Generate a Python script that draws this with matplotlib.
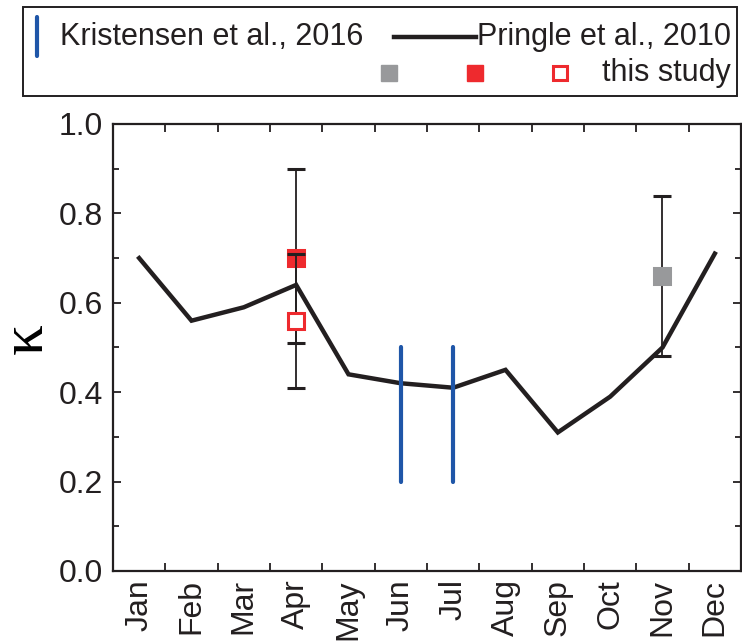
import numpy as np
import matplotlib.pyplot as plt
from matplotlib.patches import Rectangle
from matplotlib.lines import Line2D

plt.rcParams['font.family'] = ['Liberation Sans', 'DejaVu Sans']

months = ['Jan', 'Feb', 'Mar', 'Apr', 'May', 'Jun',
          'Jul', 'Aug', 'Sep', 'Oct', 'Nov', 'Dec']
# Pringle et al., 2010 monthly kappa
pringle_kappa = [0.70, 0.56, 0.59, 0.64, 0.44, 0.42, 0.41, 0.45, 0.31, 0.39, 0.50, 0.71]

# Kristensen et al., 2016 ranges
kris_months = ['Jun', 'Jul']
kris_low = [0.20, 0.20]
kris_high = [0.50, 0.50]

# this study
gray_month, gray_val, gray_lo, gray_hi = 'Nov', 0.66, 0.48, 0.84
red_month, red_val, red_lo, red_hi = 'Apr', 0.70, 0.51, 0.90
open_month, open_val, open_lo, open_hi = 'Apr', 0.56, 0.41, 0.71

BLUE = '#1f56a8'
RED = '#ee2a2e'
GRAY = '#98999b'
DARK = '#231f20'

fig = plt.figure(figsize=(7.42, 6.43), dpi=100)
ax = fig.add_axes([113 / 742, 1 - 571 / 643, (741 - 113) / 742, (571 - 124) / 643])

xi = {m: i for i, m in enumerate(months)}

ax.plot(range(len(months)), pringle_kappa, color=DARK, lw=3.2, zorder=3,
        solid_joinstyle='miter')

for m, lo, hi in zip(kris_months, kris_low, kris_high):
    ax.plot([xi[m], xi[m]], [lo, hi], color=BLUE, lw=3.0, solid_capstyle='round', zorder=4)

def point(month, val, lo, hi, face, edge, z):
    ax.errorbar([xi[month]], [val], yerr=[[val - lo], [hi - val]], fmt='s', ms=11,
                mfc=face, mec=edge, mew=2.2, ecolor=DARK, elinewidth=1.3,
                capsize=6.5, capthick=1.3, zorder=z)

point(gray_month, gray_val, gray_lo, gray_hi, GRAY, GRAY, 5)
point(red_month, red_val, red_lo, red_hi, RED, RED, 5)
point(open_month, open_val, open_lo, open_hi, 'white', RED, 6)

ax.set_xlim(-0.5, 11.5)
ax.set_ylim(0, 1.0)
ax.set_xticks(np.arange(-0.5, 12, 1))
ax.set_xticklabels([])
ax.set_xticks(range(len(months)), minor=True)
ax.set_xticklabels(months, minor=True, rotation=90, fontsize=23)
ax.set_yticks(np.arange(0, 1.01, 0.2))
ax.set_yticklabels(['%.1f' % v for v in np.arange(0, 1.01, 0.2)], fontsize=23)
ax.set_yticks(np.arange(0.1, 1.0, 0.2), minor=True)

ax.tick_params(axis='both', which='major', direction='in', length=6, width=1.3,
               color=DARK, top=True, right=True, pad=7, labelcolor=DARK)
ax.tick_params(axis='y', which='minor', direction='in', length=4, width=1.3,
               color=DARK, right=True)
ax.tick_params(axis='x', which='minor', length=0, pad=6, labelcolor=DARK)
for s in ax.spines.values():
    s.set_linewidth(1.6)
    s.set_color(DARK)

ax.set_ylabel('\u03ba', family='Liberation Serif', fontsize=44, va='center')
ax.yaxis.set_label_coords(-0.137, 0.52)

# legend box drawn in pixel coordinates
lax = fig.add_axes([0, 0, 1, 1], zorder=10)
lax.set_xlim(0, 742)
lax.set_ylim(643, 0)
lax.axis('off')
lax.add_patch(Rectangle((23, 7), 714, 89, fill=False, ec=DARK, lw=1.4))
lax.add_line(Line2D([37, 37], [17, 56], color=BLUE, lw=3.0, solid_capstyle='round'))
lax.text(60, 37, 'Kristensen et al., 2016', fontsize=22, va='center', color=DARK)
lax.add_line(Line2D([394, 476], [37, 37], color=DARK, lw=3.2))
lax.text(731, 37, 'Pringle et al., 2010', fontsize=22, va='center', ha='right', color=DARK)
lax.plot([389], [73], 's', ms=11, mfc=GRAY, mec=GRAY)
lax.plot([475], [73], 's', ms=11, mfc=RED, mec=RED)
lax.plot([560], [73], 's', ms=9.5, mfc='white', mec=RED, mew=2.2)
lax.text(731, 73, 'this study', fontsize=22, va='center', ha='right', color=DARK)

fig.savefig('out.png', dpi=100)
